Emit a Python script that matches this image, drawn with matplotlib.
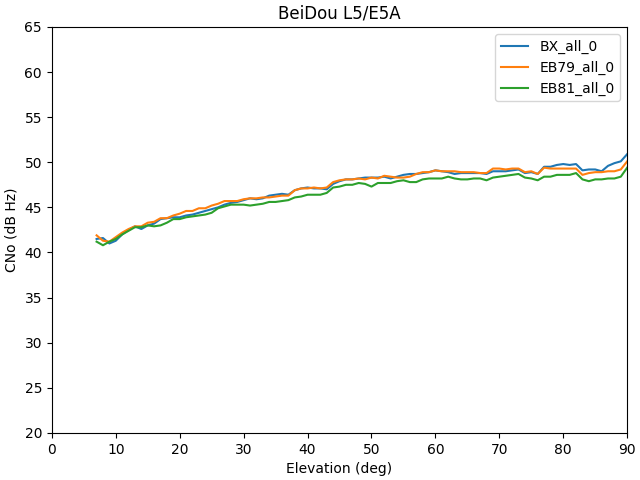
import numpy as np
import matplotlib.pyplot as plt

# elevation bins (deg)
elev = np.arange(7, 91)

bx_all_0 = [41.5, 41.6, 41.0, 41.3, 42.0, 42.5, 42.9, 42.6, 43.0, 43.2,
            43.7, 43.8, 43.9, 43.9, 44.1, 44.2, 44.4, 44.6, 44.8, 45.0,
            45.3, 45.5, 45.6, 45.8, 46.0, 45.9, 46.0, 46.3, 46.4, 46.5,
            46.4, 46.9, 47.1, 47.2, 47.1, 47.1, 47.0, 47.6, 47.9, 48.1,
            48.1, 48.2, 48.3, 48.3, 48.3, 48.4, 48.2, 48.4, 48.6, 48.7,
            48.7, 48.8, 48.9, 49.1, 49.0, 48.9, 48.7, 48.8, 48.8, 48.8,
            48.8, 48.7, 49.0, 49.0, 49.0, 49.1, 49.2, 48.8, 48.9, 48.7,
            49.5, 49.5, 49.7, 49.8, 49.7, 49.8, 49.1, 49.2, 49.2, 49.0,
            49.6, 49.9, 50.1, 50.9]

eb79_all_0 = [41.9, 41.3, 41.2, 41.7, 42.2, 42.6, 42.9, 42.9, 43.3, 43.4,
              43.8, 43.8, 44.1, 44.3, 44.6, 44.6, 44.9, 44.9, 45.2, 45.4,
              45.7, 45.7, 45.7, 45.9, 46.0, 46.0, 46.1, 46.1, 46.2, 46.3,
              46.3, 46.9, 47.1, 47.1, 47.2, 47.1, 47.2, 47.8, 48.0, 48.1,
              48.1, 48.2, 48.1, 48.3, 48.2, 48.5, 48.4, 48.3, 48.3, 48.4,
              48.7, 48.9, 48.9, 49.1, 49.0, 49.0, 49.0, 48.9, 48.9, 48.9,
              48.8, 48.8, 49.3, 49.3, 49.2, 49.3, 49.3, 48.9, 49.0, 48.7,
              49.4, 49.3, 49.3, 49.3, 49.3, 49.3, 48.6, 48.8, 48.9, 48.9,
              49.0, 49.0, 49.2, 50.1]

eb81_all_0 = [41.2, 40.8, 41.2, 41.5, 42.0, 42.4, 42.8, 42.8, 43.0, 42.9,
              43.0, 43.3, 43.7, 43.7, 43.9, 44.0, 44.1, 44.2, 44.4, 44.9,
              45.1, 45.3, 45.3, 45.3, 45.2, 45.3, 45.4, 45.6, 45.6, 45.7,
              45.8, 46.1, 46.2, 46.4, 46.4, 46.4, 46.6, 47.2, 47.3, 47.5,
              47.5, 47.7, 47.6, 47.3, 47.7, 47.7, 47.7, 47.9, 48.0, 47.8,
              47.8, 48.1, 48.2, 48.2, 48.2, 48.4, 48.2, 48.1, 48.1, 48.2,
              48.2, 48.0, 48.3, 48.4, 48.5, 48.6, 48.7, 48.3, 48.2, 48.0,
              48.4, 48.4, 48.6, 48.6, 48.6, 48.8, 48.1, 47.9, 48.1, 48.1,
              48.2, 48.2, 48.4, 49.4]

fig, ax = plt.subplots(figsize=(6.4, 4.8), dpi=100)
ax.plot(elev, bx_all_0, label='BX_all_0')
ax.plot(elev, eb79_all_0, label='EB79_all_0')
ax.plot(elev, eb81_all_0, label='EB81_all_0')
ax.set_xlim(0, 90)
ax.set_ylim(20, 65)
ax.set_xlabel('Elevation (deg)')
ax.set_ylabel('CNo (dB Hz)')
ax.set_title('BeiDou L5/E5A')
ax.legend(loc='upper right')
fig.subplots_adjust(left=0.081, right=0.980, top=0.944, bottom=0.098)
fig.savefig('out.png')
